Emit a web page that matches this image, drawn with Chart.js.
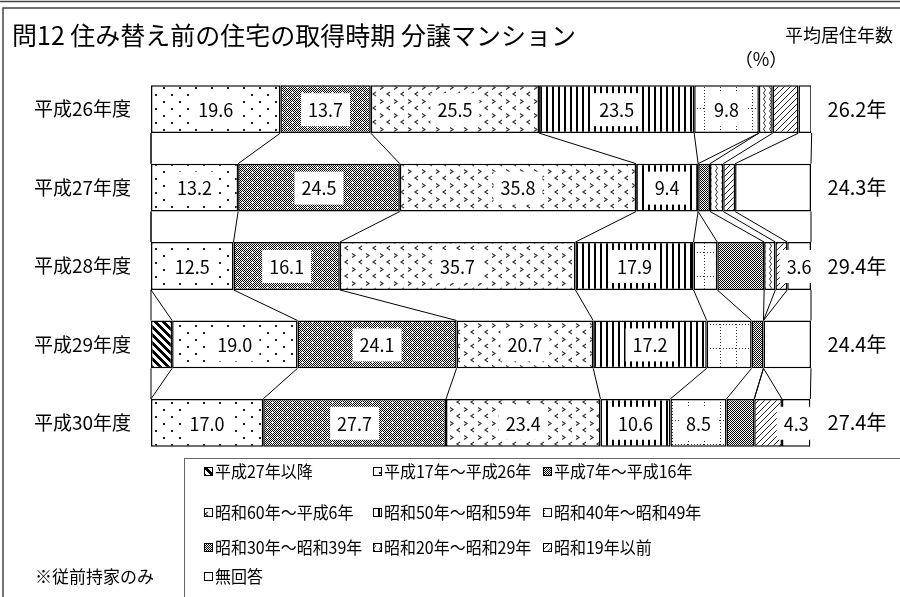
<!DOCTYPE html>
<html lang="ja">
<head>
<meta charset="utf-8">
<script src="https://cdn.jsdelivr.net/npm/chart.js@4/dist/chart.umd.min.js"></script>
<style>
  body { margin: 0; background: #fff; }
  #wrap { width: 900px; height: 597px; }
</style>
</head>
<body>
<div id="wrap"><canvas id="chart" width="900" height="597"></canvas></div>
<script>
// 問12 住み替え前の住宅の取得時期（分譲マンション）
const categories = ['平成26年度', '平成27年度', '平成28年度', '平成29年度', '平成30年度'];
const avgYears = ['26.2年', '24.3年', '29.4年', '24.4年', '27.4年'];
const seriesNames = ['平成27年以降', '平成17年～平成26年', '平成7年～平成16年', '昭和60年～平成6年',
  '昭和50年～昭和59年', '昭和40年～昭和49年', '昭和30年～昭和39年', '昭和20年～昭和29年',
  '昭和19年以前', '無回答'];

const h27 = [0, 0, 0, 3.2, 0];
const h17 = [19.6, 13.2, 12.5, 19.0, 17.0];
const h7 = [13.7, 24.5, 16.1, 24.1, 27.7];
const s60 = [25.5, 35.8, 35.7, 20.7, 23.4];
const s50 = [23.5, 9.4, 17.9, 17.2, 10.6];
const s40 = [9.8, 0, 3.6, 6.8, 8.5];
const s30 = [0, 1.8, 7.1, 1.8, 4.2];
const s20 = [2.1, 2.0, 1.7, 0, 0];
const s19 = [3.9, 1.8, 1.8, 0, 4.2];
const noAns = [2.0, 11.5, 3.6, 7.2, 4.3];
// which 無回答 values get a label in the original
const noAnsLabel = [false, false, true, false, true];

const FONT = '"Noto Sans CJK JP", "Noto Sans", sans-serif';

// --- fill patterns (monochrome, like the printed original) ---
function tile(w, h, draw){
  const c = document.createElement('canvas');
  c.width = w; c.height = h;
  const g = c.getContext('2d');
  g.fillStyle = '#fff';
  g.fillRect(0, 0, w, h);
  draw(g, w, h);
  return c;
}
function pix(g, w, h, test, col){
  g.fillStyle = col || '#000';
  for(let x = 0; x < w; x++) for(let y = 0; y < h; y++) if(test(x, y)) g.fillRect(x, y, 1, 1);
}
const tiles = [
  tile(8, 8, (g, w, h) => pix(g, w, h, (x, y) => ((x - y + 16) % 8) < 4)),
  tile(16, 14, g => { g.fillStyle = '#222'; g.fillRect(3, 3, 2, 2); g.fillRect(11, 10, 2, 2); }),
  tile(10, 10, (g, w, h) => {
    pix(g, w, h, (x, y) => (x + y) % 2 === 0);
    g.fillStyle = '#fff';
    [[2, 2], [7, 7]].forEach(([x, y]) => { g.fillRect(x - 1, y, 3, 1); g.fillRect(x, y - 1, 1, 3); });
  }),
  tile(14, 14, g => {
    g.strokeStyle = '#333'; g.lineWidth = 1.2;
    g.beginPath(); g.moveTo(2, 1.5); g.lineTo(5, 3.5); g.lineTo(2, 5.5);
    g.moveTo(12, 8); g.lineTo(9, 10); g.lineTo(12, 12); g.stroke();
  }),
  tile(6, 2, g => { g.fillStyle = '#000'; g.fillRect(0, 0, 2, 2); }),
  tile(16, 24, (g, w, h) => pix(g, w, h, (x, y) => (x === 0 && y % 3 === 0) || (y === 12 && x % 3 === 0), '#333')),
  tile(2, 2, (g, w, h) => pix(g, w, h, (x, y) => (x + y) % 2 === 0)),
  tile(6, 6, g => {
    g.strokeStyle = '#333'; g.lineWidth = 1;
    g.beginPath(); g.moveTo(3.5, 0); g.lineTo(1.5, 3); g.lineTo(3.5, 6); g.stroke();
  }),
  tile(6, 6, (g, w, h) => pix(g, w, h, (x, y) => (x + y) % 6 === 0, '#222')),
  tile(4, 4, () => {})
];
const ctx0 = document.getElementById('chart').getContext('2d');
const fills = tiles.map(t => ctx0.createPattern(t, 'repeat'));

const seriesData = [h27, h17, h7, s60, s50, s40, s30, s20, s19, noAns];

// connector lines between bars (Excel "series lines"), labels and frame
const decor = {
  id: 'decor',
  beforeDraw(chart){
    const c = chart.ctx;
    c.save();
    c.fillStyle = '#fff';
    c.fillRect(0, 0, chart.width, chart.height);
    c.strokeStyle = '#444';
    c.lineWidth = 1.5;
    c.beginPath(); c.moveTo(0, 1.5); c.lineTo(900, 1.5); c.stroke();
    c.strokeRect(3, 8, 910, 610);
    c.strokeStyle = '#666';
    c.lineWidth = 1;
    c.strokeRect(184.5, 458.5, 730, 160);
    c.restore();
  },
  afterDatasetsDraw(chart){
    const c = chart.ctx, xs = chart.scales.x, area = chart.chartArea;
    const n = chart.data.labels.length;
    const cum = [];
    for(let i = 0; i < n; i++){
      let s = 0; const row = [0];
      chart.data.datasets.forEach(ds => { s += ds.data[i]; row.push(s); });
      cum.push(row);
    }
    const el0 = chart.getDatasetMeta(0).data;
    c.save();
    c.strokeStyle = '#000';
    c.lineWidth = 1;
    for(let i = 0; i < n - 1; i++){
      const yb = el0[i].y + el0[i].height / 2;
      const yt = el0[i + 1].y - el0[i + 1].height / 2;
      cum[i].forEach((v, k) => {
        c.beginPath();
        c.moveTo(xs.getPixelForValue(v), yb);
        c.lineTo(xs.getPixelForValue(cum[i + 1][k]), yt);
        c.stroke();
      });
    }
    // value labels
    c.font = '18px ' + FONT;
    c.textAlign = 'center';
    c.textBaseline = 'middle';
    chart.data.datasets.forEach((ds, d) => {
      const meta = chart.getDatasetMeta(d);
      ds.data.forEach((v, i) => {
        const show = d === 9 ? noAnsLabel[i] : v >= 8;
        if(!show) return;
        const el = meta.data[i];
        const cx = (el.x + el.base) / 2;
        const txt = v.toFixed(1);
        const w = c.measureText(txt).width + 14;
        c.fillStyle = '#fff';
        c.fillRect(cx - w / 2, el.y - 16, w, 33);
        c.fillStyle = '#000';
        c.fillText(txt, cx, el.y + 1);
      });
    });
    // average years of residence
    c.font = '20px ' + FONT;
    avgYears.forEach((t, i) => c.fillText(t, area.right + 46, el0[i].y));
    c.textAlign = 'left';
    c.font = '18px ' + FONT;
    c.fillText('平均居住年数', 785, 35);
    c.font = '18px ' + FONT;
    c.textAlign = 'center';
    c.fillText('（%）', 761, 59);
    // legend (3 columns)
    const colX = [204, 373, 543], rowY = [472, 513, 548, 577];
    c.font = '17px ' + FONT;
    c.textAlign = 'left';
    chart.data.datasets.forEach((ds, d) => {
      const x = colX[d % 3], y = rowY[Math.floor(d / 3)];
      c.fillStyle = ds.backgroundColor;
      c.fillRect(x, y - 5, 9, 9);
      c.strokeStyle = '#000';
      c.lineWidth = 1;
      c.strokeRect(x + 0.5, y - 4.5, 8, 8);
      c.fillStyle = '#000';
      c.save();
      c.translate(x + 11, y);
      c.scale(0.94, 1);
      c.fillText(ds.label, 0, 0);
      c.restore();
    });
    c.fillText('※従前持家のみ', 35, 577);
    c.restore();
  }
};

new Chart(ctx0, {
  type: 'bar',
  data: {
    labels: categories,
    datasets: seriesNames.map((name, k) => ({
      label: name,
      data: seriesData[k],
      backgroundColor: fills[k],
      borderColor: '#000',
      borderWidth: 1.5,
      borderSkipped: false,
      barPercentage: 0.61,
      categoryPercentage: 1
    }))
  },
  options: {
    indexAxis: 'y',
    responsive: false,
    animation: false,
    devicePixelRatio: 1,
    layout: { padding: { left: 12, right: 89, top: 0, bottom: 135 } },
    scales: {
      x: { stacked: true, min: 0, max: 100, display: false },
      y: {
        stacked: true,
        grid: { display: false },
        border: { display: false },
        ticks: { color: '#000', font: { family: FONT, size: 19 }, padding: 12 },
        afterFit: s => { s.width = 139; }
      }
    },
    plugins: {
      legend: { display: false },
      tooltip: { enabled: false },
      title: {
        display: true,
        align: 'start',
        text: '問12 住み替え前の住宅の取得時期 分譲マンション',
        color: '#000',
        font: { family: FONT, size: 25, weight: 'normal' },
        padding: { top: 20, bottom: 20 }
      }
    }
  },
  plugins: [decor]
});
</script>
</body>
</html>
